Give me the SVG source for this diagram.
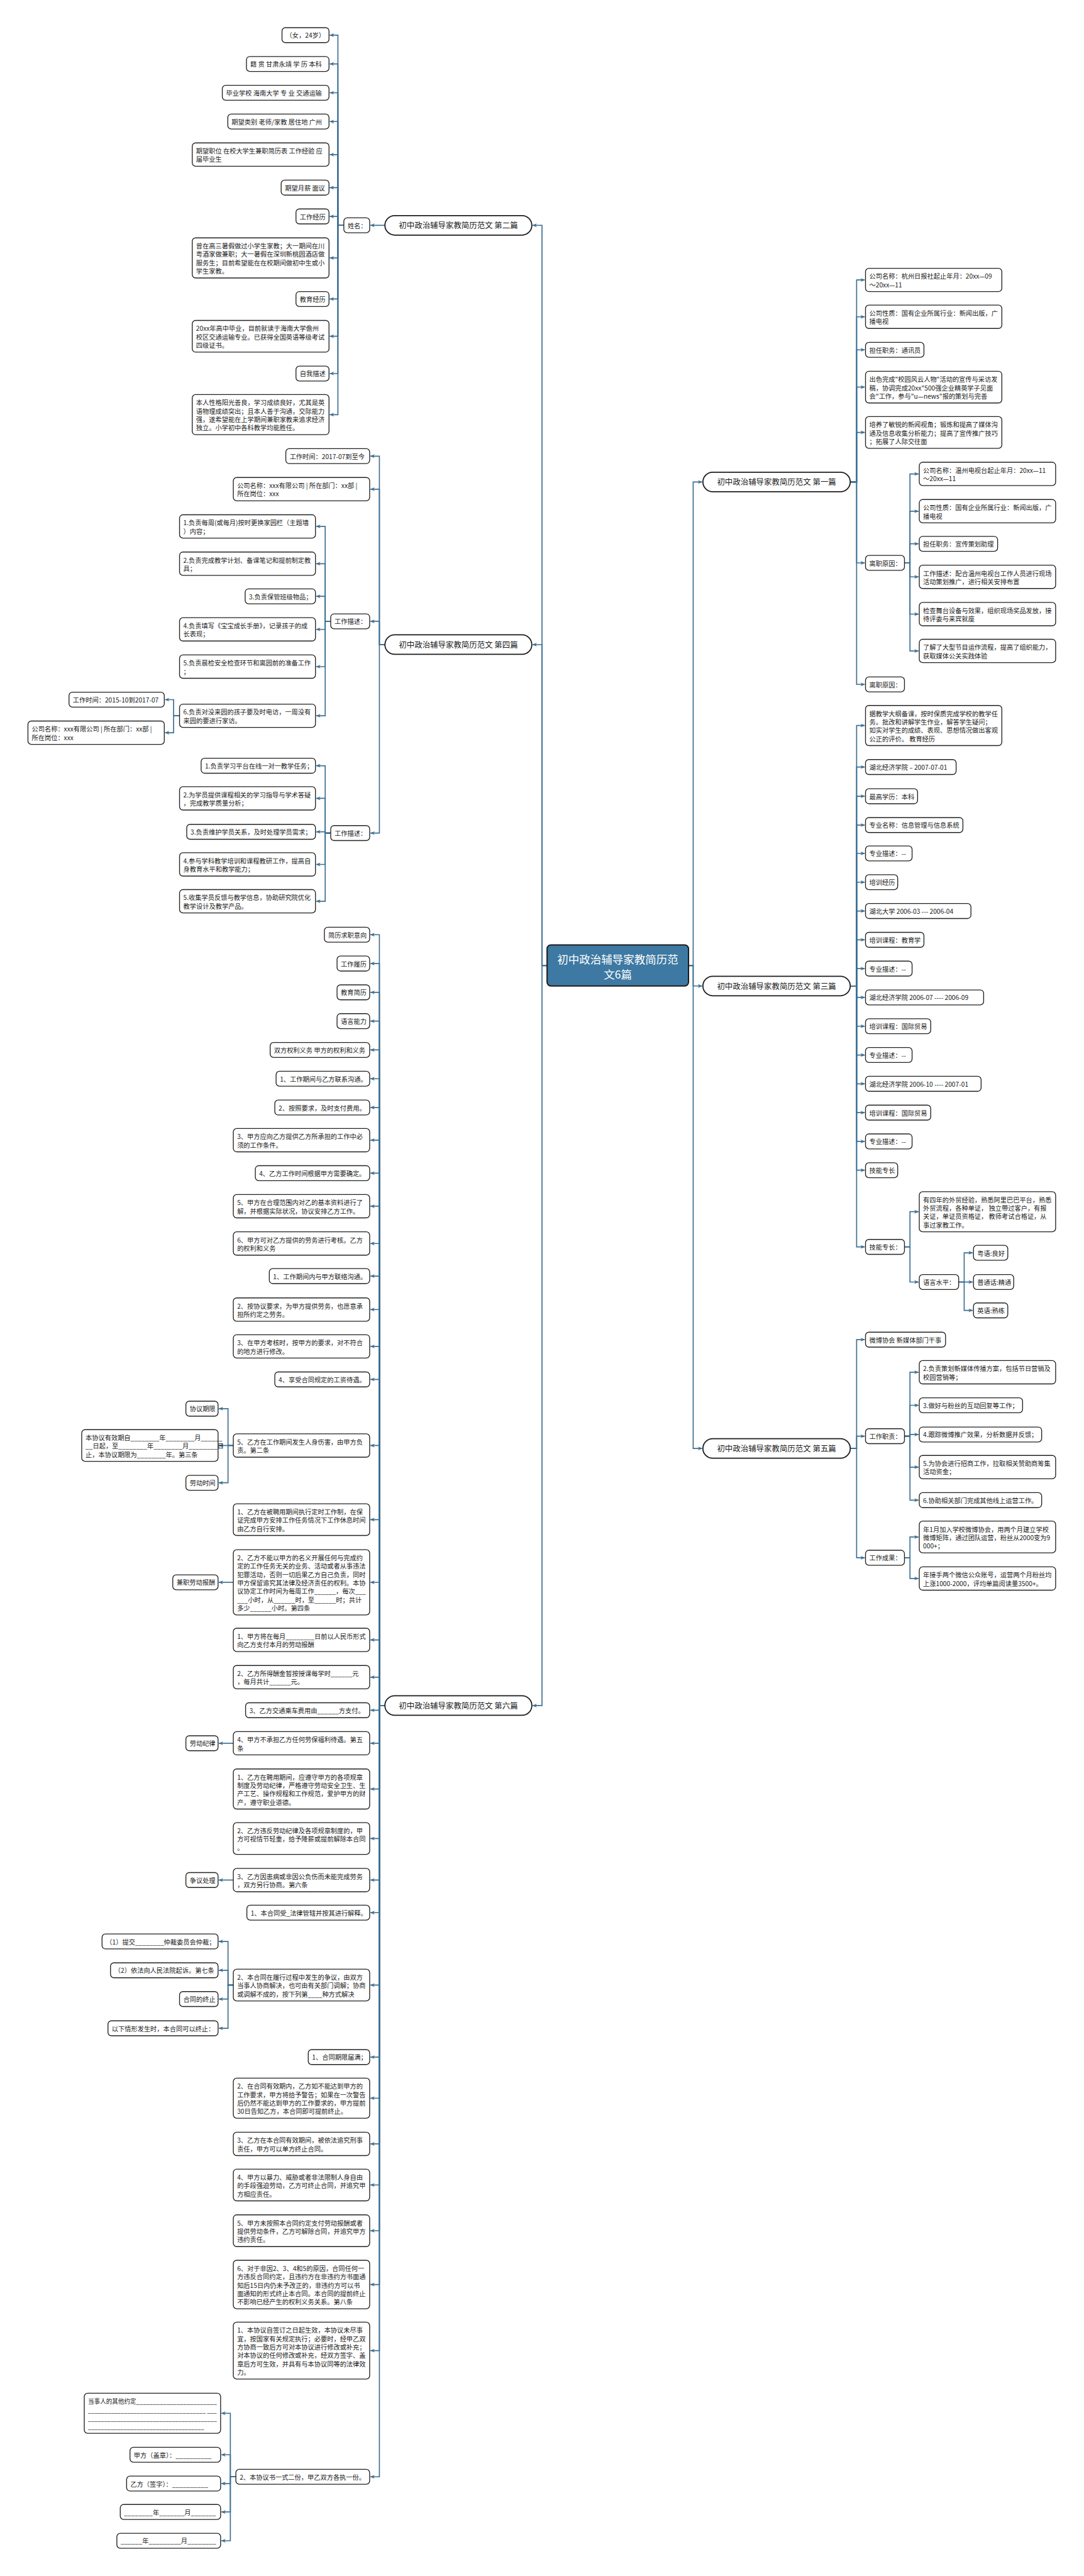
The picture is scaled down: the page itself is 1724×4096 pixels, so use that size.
<svg xmlns="http://www.w3.org/2000/svg" width="1724" height="4096" viewBox="0 0 1724 4096">
<defs>
<style>
.nd rect{fill:#fff;stroke:#222;stroke-width:2}
.nd text{font-family:"Noto Sans CJK SC","Noto Sans",sans-serif;font-size:15.2px;fill:#1b1b1b;dominant-baseline:central}
.br rect{fill:#fff;stroke:#1b1b1b;stroke-width:2.6}
.br text{font-family:"Noto Sans CJK SC","Noto Sans",sans-serif;font-size:18.5px;fill:#1b1b1b;dominant-baseline:central;text-anchor:middle}
.rt rect{fill:#3d79a2;stroke:#1d1d1d;stroke-width:3}
.rt text{font-family:"Noto Sans CJK SC","Noto Sans",sans-serif;font-size:26px;fill:#fff;dominant-baseline:central;text-anchor:middle}
#connectors path{fill:none;stroke:#3d6f91;stroke-width:2.5;marker-end:url(#ah)}
</style>
<marker id="ah" viewBox="0 0 10 10" refX="9" refY="5" markerWidth="11" markerHeight="11" markerUnits="userSpaceOnUse" orient="auto"><path d="M0,1 L10,5 L0,9 L3,5 z" fill="#3d6f91"/></marker>
</defs>
<rect x="0" y="0" width="1724" height="4096" fill="#fff"/>
<g transform="scale(0.67344)">
<g id="connectors">
<path d="M1292,2280 H1280 V532 H1258"/>
<path d="M1292,2280 H1280 V1522 H1258"/>
<path d="M1292,2280 H1280 V4027 H1258"/>
<path d="M1626,2280 H1637 V1138 H1658"/>
<path d="M1626,2280 H1637 V2328 H1658"/>
<path d="M1626,2280 H1637 V3420 H1658"/>
<path d="M909,532 H875"/>
<path d="M812,532 H798 V83 H779"/>
<path d="M812,532 H798 V151 H779"/>
<path d="M812,532 H798 V219 H779"/>
<path d="M812,532 H798 V287 H779"/>
<path d="M812,532 H798 V365 H779"/>
<path d="M812,532 H798 V443 H779"/>
<path d="M812,532 H798 V511 H779"/>
<path d="M812,532 H798 V609 H779"/>
<path d="M812,532 H798 V706 H779"/>
<path d="M812,532 H798 V794 H779"/>
<path d="M812,532 H798 V882 H779"/>
<path d="M812,532 H798 V979 H779"/>
<path d="M909,1522 H896 V1077 H875"/>
<path d="M909,1522 H896 V1155 H875"/>
<path d="M909,1522 H896 V1467 H875"/>
<path d="M909,1522 H896 V1967 H875"/>
<path d="M781,1467 H768 V1243 H747"/>
<path d="M781,1467 H768 V1331 H747"/>
<path d="M781,1467 H768 V1408 H747"/>
<path d="M781,1467 H768 V1486 H747"/>
<path d="M781,1467 H768 V1574 H747"/>
<path d="M781,1467 H768 V1690 H747"/>
<path d="M424,1690 H410 V1652 H390"/>
<path d="M424,1690 H410 V1730 H390"/>
<path d="M781,1967 H768 V1808 H747"/>
<path d="M781,1967 H768 V1885 H747"/>
<path d="M781,1967 H768 V1964 H747"/>
<path d="M781,1967 H768 V2041 H747"/>
<path d="M781,1967 H768 V2128 H747"/>
<path d="M909,4027 H896 V2207 H875"/>
<path d="M909,4027 H896 V2275 H875"/>
<path d="M909,4027 H896 V2343 H875"/>
<path d="M909,4027 H896 V2411 H875"/>
<path d="M909,4027 H896 V2479 H875"/>
<path d="M909,4027 H896 V2547 H875"/>
<path d="M909,4027 H896 V2615 H875"/>
<path d="M909,4027 H896 V2692 H875"/>
<path d="M909,4027 H896 V2770 H875"/>
<path d="M909,4027 H896 V2848 H875"/>
<path d="M909,4027 H896 V2936 H875"/>
<path d="M909,4027 H896 V3013 H875"/>
<path d="M909,4027 H896 V3092 H875"/>
<path d="M909,4027 H896 V3179 H875"/>
<path d="M909,4027 H896 V3257 H875"/>
<path d="M909,4027 H896 V3413 H875"/>
<path d="M909,4027 H896 V3588 H875"/>
<path d="M909,4027 H896 V3736 H875"/>
<path d="M909,4027 H896 V3872 H875"/>
<path d="M909,4027 H896 V3960 H875"/>
<path d="M909,4027 H896 V4038 H875"/>
<path d="M909,4027 H896 V4116 H875"/>
<path d="M909,4027 H896 V4224 H875"/>
<path d="M909,4027 H896 V4341 H875"/>
<path d="M909,4027 H896 V4439 H875"/>
<path d="M909,4027 H896 V4516 H875"/>
<path d="M909,4027 H896 V4687 H875"/>
<path d="M909,4027 H896 V4857 H875"/>
<path d="M909,4027 H896 V4954 H875"/>
<path d="M909,4027 H896 V5062 H875"/>
<path d="M909,4027 H896 V5159 H875"/>
<path d="M909,4027 H896 V5267 H875"/>
<path d="M909,4027 H896 V5394 H875"/>
<path d="M909,4027 H896 V5550 H875"/>
<path d="M909,4027 H896 V5848 H875"/>
<path d="M551,3413 H538.5 V3326 H517"/>
<path d="M551,3413 H517"/>
<path d="M551,3413 H538.5 V3501 H517"/>
<path d="M551,3736 H517"/>
<path d="M551,4116 H517"/>
<path d="M551,4439 H517"/>
<path d="M551,4687 H538.5 V4584 H517"/>
<path d="M551,4687 H538.5 V4652 H517"/>
<path d="M551,4687 H538.5 V4720 H517"/>
<path d="M551,4687 H538.5 V4789 H517"/>
<path d="M557,5848 H544 V5698 H523"/>
<path d="M557,5848 H544 V5796 H523"/>
<path d="M557,5848 H544 V5864 H523"/>
<path d="M557,5848 H544 V5931 H523"/>
<path d="M557,5848 H544 V5999 H523"/>
<path d="M2008,1138 H2023 V661 H2042"/>
<path d="M2008,1138 H2023 V748 H2042"/>
<path d="M2008,1138 H2023 V826 H2042"/>
<path d="M2008,1138 H2023 V914 H2042"/>
<path d="M2008,1138 H2023 V1021 H2042"/>
<path d="M2008,1138 H2023 V1329 H2042"/>
<path d="M2008,1138 H2023 V1616 H2042"/>
<path d="M2136,1329 H2149 V1119 H2169"/>
<path d="M2136,1329 H2149 V1207 H2169"/>
<path d="M2136,1329 H2149 V1284 H2169"/>
<path d="M2136,1329 H2149 V1362 H2169"/>
<path d="M2136,1329 H2149 V1450 H2169"/>
<path d="M2136,1329 H2149 V1537 H2169"/>
<path d="M2008,2328 H2023 V1713 H2042"/>
<path d="M2008,2328 H2023 V1811 H2042"/>
<path d="M2008,2328 H2023 V1880 H2042"/>
<path d="M2008,2328 H2023 V1948 H2042"/>
<path d="M2008,2328 H2023 V2015 H2042"/>
<path d="M2008,2328 H2023 V2083 H2042"/>
<path d="M2008,2328 H2023 V2151 H2042"/>
<path d="M2008,2328 H2023 V2219 H2042"/>
<path d="M2008,2328 H2023 V2287 H2042"/>
<path d="M2008,2328 H2023 V2355 H2042"/>
<path d="M2008,2328 H2023 V2423 H2042"/>
<path d="M2008,2328 H2023 V2491 H2042"/>
<path d="M2008,2328 H2023 V2559 H2042"/>
<path d="M2008,2328 H2023 V2627 H2042"/>
<path d="M2008,2328 H2023 V2695 H2042"/>
<path d="M2008,2328 H2023 V2763 H2042"/>
<path d="M2008,2328 H2023 V2944 H2042"/>
<path d="M2136,2944 H2149 V2861 H2169"/>
<path d="M2136,2944 H2149 V3027 H2169"/>
<path d="M2264,3027 H2277 V2958 H2297"/>
<path d="M2264,3027 H2297"/>
<path d="M2264,3027 H2277 V3094 H2297"/>
<path d="M2008,3420 H2023 V3163 H2042"/>
<path d="M2008,3420 H2023 V3391 H2042"/>
<path d="M2008,3420 H2023 V3678 H2042"/>
<path d="M2136,3391 H2149 V3240 H2169"/>
<path d="M2136,3391 H2149 V3318 H2169"/>
<path d="M2136,3391 H2149 V3387 H2169"/>
<path d="M2136,3391 H2149 V3464 H2169"/>
<path d="M2136,3391 H2149 V3542 H2169"/>
<path d="M2136,3678 H2149 V3629 H2169"/>
<path d="M2136,3678 H2149 V3727 H2169"/>
</g>

<g id="root" class="rt"><rect x="1292" y="2231" width="334" height="97" rx="9"/><text x="1459"><tspan x="1459" y="2263">初中政治辅导家教简历范</tspan><tspan x="1459" y="2299">文6篇</tspan></text></g>

<g id="b2" class="br"><rect x="909" y="509" width="347" height="46" rx="23"/><text x="1082.5" y="532">初中政治辅导家教简历范文 第二篇</text></g>
<g id="b4" class="br"><rect x="909" y="1499" width="347" height="46" rx="23"/><text x="1082.5" y="1522">初中政治辅导家教简历范文 第四篇</text></g>
<g id="b6" class="br"><rect x="909" y="4004" width="347" height="46" rx="23"/><text x="1082.5" y="4027">初中政治辅导家教简历范文 第六篇</text></g>
<g id="b1" class="br"><rect x="1660" y="1115" width="348" height="46" rx="23"/><text x="1834" y="1138">初中政治辅导家教简历范文 第一篇</text></g>
<g id="b3" class="br"><rect x="1660" y="2305" width="348" height="46" rx="23"/><text x="1834" y="2328">初中政治辅导家教简历范文 第三篇</text></g>
<g id="b5" class="br"><rect x="1660" y="3397" width="348" height="46" rx="23"/><text x="1834" y="3420">初中政治辅导家教简历范文 第五篇</text></g>

<g id="n2_0" class="nd"><rect x="812" y="514.35" width="61" height="35.3" rx="8"/><text x="821" y="532">姓名：</text></g>
<g id="n2_1" class="nd"><rect x="666" y="65.35" width="111" height="35.3" rx="8"/><text x="675" y="83">（女，24岁）</text></g>
<g id="n2_2" class="nd"><rect x="582" y="133.35" width="195" height="35.3" rx="8"/><text x="591" y="151">籍 贯 甘肃永靖 学 历 本科</text></g>
<g id="n2_3" class="nd"><rect x="525" y="201.35" width="252" height="35.3" rx="8"/><text x="534" y="219">毕业学校 海南大学 专 业 交通运输</text></g>
<g id="n2_4" class="nd"><rect x="538" y="269.35" width="239" height="35.3" rx="8"/><text x="547" y="287">期望类别 老师/家教 居住地 广州</text></g>
<g id="n2_5" class="nd"><rect x="454" y="337.45" width="323" height="55.1" rx="8"/><text><tspan x="463" y="355.1">期望职位 在校大学生兼职简历表 工作经验 应</tspan><tspan x="463" y="374.9">届毕业生</tspan></text></g>
<g id="n2_6" class="nd"><rect x="664" y="425.35" width="113" height="35.3" rx="8"/><text x="673" y="443">期望月薪 面议</text></g>
<g id="n2_7" class="nd"><rect x="699" y="493.35" width="78" height="35.3" rx="8"/><text x="708" y="511">工作经历</text></g>
<g id="n2_8" class="nd"><rect x="454" y="561.65" width="323" height="94.7" rx="8"/><text><tspan x="463" y="579.3">曾在高三暑假做过小学生家教；大一期间在川</tspan><tspan x="463" y="599.1">粤酒家做兼职；大一暑假在深圳新桃园酒店做</tspan><tspan x="463" y="618.9">服务生；目前希望能在在校期间做初中生或小</tspan><tspan x="463" y="638.7">学生家教。</tspan></text></g>
<g id="n2_9" class="nd"><rect x="699" y="688.35" width="78" height="35.3" rx="8"/><text x="708" y="706">教育经历</text></g>
<g id="n2_10" class="nd"><rect x="454" y="756.55" width="323" height="74.9" rx="8"/><text><tspan x="463" y="774.2">20xx年高中毕业，目前就读于海南大学儋州</tspan><tspan x="463" y="794">校区交通运输专业。已获得全国英语等级考试</tspan><tspan x="463" y="813.8">四级证书。</tspan></text></g>
<g id="n2_11" class="nd"><rect x="699" y="864.35" width="78" height="35.3" rx="8"/><text x="708" y="882">自我描述</text></g>
<g id="n2_12" class="nd"><rect x="454" y="931.65" width="323" height="94.7" rx="8"/><text><tspan x="463" y="949.3">本人性格阳光善良，学习成绩良好，尤其是英</tspan><tspan x="463" y="969.1">语物理成绩突出；且本人善于沟通，交际能力</tspan><tspan x="463" y="988.9">强，遂希望能在上学期间兼职家教来追求经济</tspan><tspan x="463" y="1008.7">独立。小学初中各科教学均能胜任。</tspan></text></g>

<g id="n4_1" class="nd"><rect x="675" y="1059.35" width="198" height="35.3" rx="8"/><text x="684" y="1077">工作时间：2017-07到至今</text></g>
<g id="n4_2" class="nd"><rect x="551" y="1127.45" width="322" height="55.1" rx="8"/><text><tspan x="560" y="1145.1">公司名称：xxx有限公司 | 所在部门：xx部 |</tspan><tspan x="560" y="1164.9">所在岗位：xxx</tspan></text></g>
<g id="n4_3" class="nd"><rect x="781" y="1449.35" width="92" height="35.3" rx="8"/><text x="790" y="1467">工作描述：</text></g>
<g id="n4_3_1" class="nd"><rect x="424" y="1215.45" width="321" height="55.1" rx="8"/><text><tspan x="433" y="1233.1">1.负责每周(或每月)按时更换家园栏（主题墙</tspan><tspan x="433" y="1252.9">）内容；</tspan></text></g>
<g id="n4_3_2" class="nd"><rect x="424" y="1303.45" width="321" height="55.1" rx="8"/><text><tspan x="433" y="1321.1">2.负责完成教学计划、备课笔记和提前制定教</tspan><tspan x="433" y="1340.9">具；</tspan></text></g>
<g id="n4_3_3" class="nd"><rect x="579" y="1390.35" width="166" height="35.3" rx="8"/><text x="588" y="1408">3.负责保管班级物品；</text></g>
<g id="n4_3_4" class="nd"><rect x="424" y="1458.45" width="321" height="55.1" rx="8"/><text><tspan x="433" y="1476.1">4.负责填写《宝宝成长手册》，记录孩子的成</tspan><tspan x="433" y="1495.9">长表现；</tspan></text></g>
<g id="n4_3_5" class="nd"><rect x="424" y="1546.45" width="321" height="55.1" rx="8"/><text><tspan x="433" y="1564.1">5.负责晨检安全检查环节和离园前的准备工作</tspan><tspan x="433" y="1583.9">；</tspan></text></g>
<g id="n4_3_6" class="nd"><rect x="424" y="1662.45" width="321" height="55.1" rx="8"/><text><tspan x="433" y="1680.1">6.负责对没来园的孩子要及时电访，一周没有</tspan><tspan x="433" y="1699.9">来园的要进行家访。</tspan></text></g>
<g id="n4_3_6_1" class="nd"><rect x="163" y="1634.35" width="225" height="35.3" rx="8"/><text x="172" y="1652">工作时间：2015-10到2017-07</text></g>
<g id="n4_3_6_2" class="nd"><rect x="66" y="1702.45" width="322" height="55.1" rx="8"/><text><tspan x="75" y="1720.1">公司名称：xxx有限公司 | 所在部门：xx部 |</tspan><tspan x="75" y="1739.9">所在岗位：xxx</tspan></text></g>
<g id="n4_4" class="nd"><rect x="781" y="1949.35" width="92" height="35.3" rx="8"/><text x="790" y="1967">工作描述：</text></g>
<g id="n4_4_1" class="nd"><rect x="475" y="1790.35" width="270" height="35.3" rx="8"/><text x="484" y="1808">1.负责学习平台在线一对一教学任务；</text></g>
<g id="n4_4_2" class="nd"><rect x="424" y="1857.45" width="321" height="55.1" rx="8"/><text><tspan x="433" y="1875.1">2.为学员提供课程相关的学习指导与学术答疑</tspan><tspan x="433" y="1894.9">，完成教学质量分析；</tspan></text></g>
<g id="n4_4_3" class="nd"><rect x="441" y="1946.35" width="304" height="35.3" rx="8"/><text x="450" y="1964">3.负责维护学员关系，及时处理学员需求；</text></g>
<g id="n4_4_4" class="nd"><rect x="424" y="2013.45" width="321" height="55.1" rx="8"/><text><tspan x="433" y="2031.1">4.参与学科教学培训和课程教研工作，提高自</tspan><tspan x="433" y="2050.9">身教育水平和教学能力；</tspan></text></g>
<g id="n4_4_5" class="nd"><rect x="424" y="2100.45" width="321" height="55.1" rx="8"/><text><tspan x="433" y="2118.1">5.收集学员反馈与教学信息，协助研究院优化</tspan><tspan x="433" y="2137.9">教学设计及教学产品。</tspan></text></g>

<g id="n6_1" class="nd"><rect x="766" y="2189.35" width="107" height="35.3" rx="8"/><text x="775" y="2207">简历求职意向</text></g>
<g id="n6_2" class="nd"><rect x="796" y="2257.35" width="77" height="35.3" rx="8"/><text x="805" y="2275">工作履历</text></g>
<g id="n6_3" class="nd"><rect x="796" y="2325.35" width="77" height="35.3" rx="8"/><text x="805" y="2343">教育简历</text></g>
<g id="n6_4" class="nd"><rect x="796" y="2393.35" width="77" height="35.3" rx="8"/><text x="805" y="2411">语言能力</text></g>
<g id="n6_5" class="nd"><rect x="638" y="2461.35" width="235" height="35.3" rx="8"/><text x="647" y="2479">双方权利义务 甲方的权利和义务</text></g>
<g id="n6_6" class="nd"><rect x="652" y="2529.35" width="221" height="35.3" rx="8"/><text x="661" y="2547">1、工作期间与乙方联系沟通。</text></g>
<g id="n6_7" class="nd"><rect x="649" y="2597.35" width="224" height="35.3" rx="8"/><text x="658" y="2615">2、按照要求，及时支付费用。</text></g>
<g id="n6_8" class="nd"><rect x="551" y="2664.45" width="322" height="55.1" rx="8"/><text><tspan x="560" y="2682.1">3、甲方应向乙方提供乙方所承担的工作中必</tspan><tspan x="560" y="2701.9">须的工作条件。</tspan></text></g>
<g id="n6_9" class="nd"><rect x="603" y="2752.35" width="270" height="35.3" rx="8"/><text x="612" y="2770">4、乙方工作时间根据甲方需要确定。</text></g>
<g id="n6_10" class="nd"><rect x="551" y="2820.45" width="322" height="55.1" rx="8"/><text><tspan x="560" y="2838.1">5、甲方在合理范围内对乙的基本资料进行了</tspan><tspan x="560" y="2857.9">解，并根据实际状况，协议安排乙方工作。</tspan></text></g>
<g id="n6_11" class="nd"><rect x="551" y="2908.45" width="322" height="55.1" rx="8"/><text><tspan x="560" y="2926.1">6、甲方可对乙方提供的劳务进行考核。乙方</tspan><tspan x="560" y="2945.9">的权利和义务</tspan></text></g>
<g id="n6_12" class="nd"><rect x="636" y="2995.35" width="237" height="35.3" rx="8"/><text x="645" y="3013">1、工作期间内与甲方联络沟通。</text></g>
<g id="n6_13" class="nd"><rect x="551" y="3064.45" width="322" height="55.1" rx="8"/><text><tspan x="560" y="3082.1">2、按协议要求，为甲方提供劳务，也愿意承</tspan><tspan x="560" y="3101.9">担所约定之劳务。</tspan></text></g>
<g id="n6_14" class="nd"><rect x="551" y="3151.45" width="322" height="55.1" rx="8"/><text><tspan x="560" y="3169.1">3、在甲方考核时，按甲方的要求，对不符合</tspan><tspan x="560" y="3188.9">的地方进行修改。</tspan></text></g>
<g id="n6_15" class="nd"><rect x="649" y="3239.35" width="224" height="35.3" rx="8"/><text x="658" y="3257">4、享受合同规定的工资待遇。</text></g>
<g id="n6_16" class="nd"><rect x="551" y="3385.45" width="322" height="55.1" rx="8"/><text><tspan x="560" y="3403.1">5、乙方在工作期间发生人身伤害，由甲方负</tspan><tspan x="560" y="3422.9">责。第二条</tspan></text></g>
<g id="n6_16a" class="nd"><rect x="439" y="3308.35" width="76" height="35.3" rx="8"/><text x="448" y="3326">协议期限</text></g>
<g id="n6_16b" class="nd"><rect x="193" y="3375.55" width="322" height="74.9" rx="8"/><text><tspan x="202" y="3393.2">本协议有效期自________年________月______</tspan><tspan x="202" y="3413">__日起，至________年________月________日</tspan><tspan x="202" y="3432.8">止，本协议期限为________年。第三条</tspan></text></g>
<g id="n6_16c" class="nd"><rect x="439" y="3483.35" width="76" height="35.3" rx="8"/><text x="448" y="3501">劳动时间</text></g>
<g id="n6_17" class="nd"><rect x="551" y="3550.55" width="322" height="74.9" rx="8"/><text><tspan x="560" y="3568.2">1、乙方在被聘用期间执行定时工作制，在保</tspan><tspan x="560" y="3588">证完成甲方安排工作任务情况下工作休息时间</tspan><tspan x="560" y="3607.8">由乙方自行安排。</tspan></text></g>
<g id="n6_18" class="nd"><rect x="551" y="3658.95" width="322" height="154.1" rx="8"/><text><tspan x="560" y="3676.6">2、乙方不能以甲方的名义开展任何与完成约</tspan><tspan x="560" y="3696.4">定的工作任务无关的业务、活动或者从事违法</tspan><tspan x="560" y="3716.2">犯罪活动，否则一切后果乙方自己负责，同时</tspan><tspan x="560" y="3736">甲方保留追究其法律及经济责任的权利。本协</tspan><tspan x="560" y="3755.8">议协定工作时间为每周工作______，每次___</tspan><tspan x="560" y="3775.6">___小时，从______时，至______时；共计</tspan><tspan x="560" y="3795.4">多少______小时。第四条</tspan></text></g>
<g id="n6_18a" class="nd"><rect x="408" y="3718.35" width="107" height="35.3" rx="8"/><text x="417" y="3736">兼职劳动报酬</text></g>
<g id="n6_19" class="nd"><rect x="551" y="3844.45" width="322" height="55.1" rx="8"/><text><tspan x="560" y="3862.1">1、甲方将在每月________日前以人民币形式</tspan><tspan x="560" y="3881.9">向乙方支付本月的劳动报酬</tspan></text></g>
<g id="n6_20" class="nd"><rect x="551" y="3932.45" width="322" height="55.1" rx="8"/><text><tspan x="560" y="3950.1">2、乙方所得酬金暂按授课每学时______元</tspan><tspan x="560" y="3969.9">，每月共计______元。</tspan></text></g>
<g id="n6_21" class="nd"><rect x="580" y="4020.35" width="293" height="35.3" rx="8"/><text x="589" y="4038">3、乙方交通乘车费用由______方支付。</text></g>
<g id="n6_22" class="nd"><rect x="551" y="4088.45" width="322" height="55.1" rx="8"/><text><tspan x="560" y="4106.1">4、甲方不承担乙方任何劳保福利待遇。第五</tspan><tspan x="560" y="4125.9">条</tspan></text></g>
<g id="n6_22a" class="nd"><rect x="439" y="4098.35" width="76" height="35.3" rx="8"/><text x="448" y="4116">劳动纪律</text></g>
<g id="n6_23" class="nd"><rect x="551" y="4176.65" width="322" height="94.7" rx="8"/><text><tspan x="560" y="4194.3">1、乙方在聘用期间，应遵守甲方的各项规章</tspan><tspan x="560" y="4214.1">制度及劳动纪律，严格遵守劳动安全卫生、生</tspan><tspan x="560" y="4233.9">产工艺、操作规程和工作规范，爱护甲方的财</tspan><tspan x="560" y="4253.7">产，遵守职业道德。</tspan></text></g>
<g id="n6_24" class="nd"><rect x="551" y="4303.55" width="322" height="74.9" rx="8"/><text><tspan x="560" y="4321.2">2、乙方违反劳动纪律及各项规章制度的，甲</tspan><tspan x="560" y="4341">方可视情节轻重，给予降薪或提前解除本合同</tspan><tspan x="560" y="4360.8">。</tspan></text></g>
<g id="n6_25" class="nd"><rect x="551" y="4411.45" width="322" height="55.1" rx="8"/><text><tspan x="560" y="4429.1">3、乙方因患病或非因公负伤而未能完成劳务</tspan><tspan x="560" y="4448.9">，双方另行协商。第六条</tspan></text></g>
<g id="n6_25a" class="nd"><rect x="439" y="4421.35" width="76" height="35.3" rx="8"/><text x="448" y="4439">争议处理</text></g>
<g id="n6_26" class="nd"><rect x="583" y="4498.35" width="290" height="35.3" rx="8"/><text x="592" y="4516">1、本合同受_法律管辖并按其进行解释。</text></g>
<g id="n6_27" class="nd"><rect x="551" y="4649.55" width="322" height="74.9" rx="8"/><text><tspan x="560" y="4667.2">2、本合同在履行过程中发生的争议，由双方</tspan><tspan x="560" y="4687">当事人协商解决，也可由有关部门调解；协商</tspan><tspan x="560" y="4706.8">或调解不成的，按下列第____种方式解决</tspan></text></g>
<g id="n6_27a" class="nd"><rect x="241" y="4566.35" width="274" height="35.3" rx="8"/><text x="250" y="4584">（1）提交________仲裁委员会仲裁；</text></g>
<g id="n6_27b" class="nd"><rect x="261" y="4634.35" width="254" height="35.3" rx="8"/><text x="270" y="4652">（2）依法向人民法院起诉。第七条</text></g>
<g id="n6_27c" class="nd"><rect x="424" y="4702.35" width="91" height="35.3" rx="8"/><text x="433" y="4720">合同的终止</text></g>
<g id="n6_27d" class="nd"><rect x="255" y="4771.35" width="260" height="35.3" rx="8"/><text x="264" y="4789">以下情形发生时，本合同可以终止：</text></g>
<g id="n6_28" class="nd"><rect x="728" y="4839.35" width="145" height="35.3" rx="8"/><text x="737" y="4857">1、合同期限届满；</text></g>
<g id="n6_29" class="nd"><rect x="551" y="4906.65" width="322" height="94.7" rx="8"/><text><tspan x="560" y="4924.3">2、在合同有效期内，乙方如不能达到甲方的</tspan><tspan x="560" y="4944.1">工作要求，甲方将给予警告；如果在一次警告</tspan><tspan x="560" y="4963.9">后仍然不能达到甲方的工作要求的，甲方提前</tspan><tspan x="560" y="4983.7">30日告知乙方，本合同即可提前终止。</tspan></text></g>
<g id="n6_30" class="nd"><rect x="551" y="5034.45" width="322" height="55.1" rx="8"/><text><tspan x="560" y="5052.1">3、乙方在本合同有效期间，被依法追究刑事</tspan><tspan x="560" y="5071.9">责任，甲方可以单方终止合同。</tspan></text></g>
<g id="n6_31" class="nd"><rect x="551" y="5121.55" width="322" height="74.9" rx="8"/><text><tspan x="560" y="5139.2">4、甲方以暴力、威胁或者非法限制人身自由</tspan><tspan x="560" y="5159">的手段强迫劳动，乙方可终止合同，并追究甲</tspan><tspan x="560" y="5178.8">方相应责任。</tspan></text></g>
<g id="n6_32" class="nd"><rect x="551" y="5229.55" width="322" height="74.9" rx="8"/><text><tspan x="560" y="5247.2">5、甲方未按照本合同约定支付劳动报酬或者</tspan><tspan x="560" y="5267">提供劳动条件，乙方可解除合同，并追究甲方</tspan><tspan x="560" y="5286.8">违约责任。</tspan></text></g>
<g id="n6_33" class="nd"><rect x="551" y="5336.75" width="322" height="114.5" rx="8"/><text><tspan x="560" y="5354.4">6、对于非因2、3、4和5的原因，合同任何一</tspan><tspan x="560" y="5374.2">方违反合同约定，且违约方在非违约方书面通</tspan><tspan x="560" y="5394">知后15日内仍未予改正的，非违约方可以书</tspan><tspan x="560" y="5413.8">面通知的形式终止本合同。本合同的提前终止</tspan><tspan x="560" y="5433.6">不影响已经产生的权利义务关系。第八条</tspan></text></g>
<g id="n6_34" class="nd"><rect x="551" y="5482.85" width="322" height="134.3" rx="8"/><text><tspan x="560" y="5500.5">1、本协议自签订之日起生效，本协议未尽事</tspan><tspan x="560" y="5520.3">宜，按国家有关规定执行；必要时，经甲乙双</tspan><tspan x="560" y="5540.1">方协商一致后方可对本协议进行修改或补充；</tspan><tspan x="560" y="5559.9">对本协议的任何修改或补充，经双方签字、盖</tspan><tspan x="560" y="5579.7">章后方可生效，并具有与本协议同等的法律效</tspan><tspan x="560" y="5599.5">力。</tspan></text></g>
<g id="n6_35" class="nd"><rect x="557" y="5830.35" width="316" height="35.3" rx="8"/><text x="566" y="5848">2、本协议书一式二份，甲乙双方各执一份。</text></g>
<g id="n6_35a" class="nd"><rect x="199" y="5650.65" width="322" height="94.7" rx="8"/><text><tspan x="208" y="5668.3" textLength="304" lengthAdjust="spacingAndGlyphs">当事人的其他约定________________________</tspan><tspan x="208" y="5688.1" textLength="304" lengthAdjust="spacingAndGlyphs">____________________________________ ___</tspan><tspan x="208" y="5707.9" textLength="304" lengthAdjust="spacingAndGlyphs">________________________________________</tspan><tspan x="208" y="5727.7" textLength="274" lengthAdjust="spacingAndGlyphs">____________________________________</tspan></text></g>
<g id="n6_35b" class="nd"><rect x="307" y="5778.35" width="214" height="35.3" rx="8"/><text x="316" y="5796">甲方（盖章）：__________</text></g>
<g id="n6_35c" class="nd"><rect x="299" y="5846.35" width="222" height="35.3" rx="8"/><text x="308" y="5864">乙方（签字）：__________</text></g>
<g id="n6_35d" class="nd"><rect x="284" y="5913.35" width="237" height="35.3" rx="8"/><text x="293" y="5931">________年_______月_______</text></g>
<g id="n6_35e" class="nd"><rect x="276" y="5981.35" width="245" height="35.3" rx="8"/><text x="285" y="5999">______年_________月________</text></g>

<g id="n1_1" class="nd"><rect x="2044" y="633.45" width="322" height="55.1" rx="8"/><text><tspan x="2053" y="651.1">公司名称：杭州日报社起止年月：20xx—09</tspan><tspan x="2053" y="670.9">～20xx—11</tspan></text></g>
<g id="n1_2" class="nd"><rect x="2044" y="720.45" width="322" height="55.1" rx="8"/><text><tspan x="2053" y="738.1">公司性质：国有企业所属行业：新闻出版，广</tspan><tspan x="2053" y="757.9">播电视</tspan></text></g>
<g id="n1_3" class="nd"><rect x="2044" y="808.35" width="138" height="35.3" rx="8"/><text x="2053" y="826">担任职务：通讯员</text></g>
<g id="n1_4" class="nd"><rect x="2044" y="876.55" width="322" height="74.9" rx="8"/><text><tspan x="2053" y="894.2">出色完成"校园风云人物"活动的宣传与采访发</tspan><tspan x="2053" y="914">稿，协调完成20xx"500强企业精英学子见面</tspan><tspan x="2053" y="933.8">会"工作，参与"u—news"报的策划与完善</tspan></text></g>
<g id="n1_5" class="nd"><rect x="2044" y="983.55" width="322" height="74.9" rx="8"/><text><tspan x="2053" y="1001.2">培养了敏锐的新闻视角；锻炼和提高了媒体沟</tspan><tspan x="2053" y="1021">通及信息收集分析能力；提高了宣传推广技巧</tspan><tspan x="2053" y="1040.8">；拓展了人际交往面</tspan></text></g>
<g id="n1_6" class="nd"><rect x="2044" y="1311.35" width="92" height="35.3" rx="8"/><text x="2053" y="1329">离职原因：</text></g>
<g id="n1_6a" class="nd"><rect x="2171" y="1091.45" width="322" height="55.1" rx="8"/><text><tspan x="2180" y="1109.1">公司名称：温州电视台起止年月：20xx—11</tspan><tspan x="2180" y="1128.9">～20xx—11</tspan></text></g>
<g id="n1_6b" class="nd"><rect x="2171" y="1179.45" width="322" height="55.1" rx="8"/><text><tspan x="2180" y="1197.1">公司性质：国有企业所属行业：新闻出版，广</tspan><tspan x="2180" y="1216.9">播电视</tspan></text></g>
<g id="n1_6c" class="nd"><rect x="2171" y="1266.35" width="185" height="35.3" rx="8"/><text x="2180" y="1284">担任职务：宣传策划助理</text></g>
<g id="n1_6d" class="nd"><rect x="2171" y="1334.45" width="322" height="55.1" rx="8"/><text><tspan x="2180" y="1352.1">工作描述：配合温州电视台工作人员进行现场</tspan><tspan x="2180" y="1371.9">活动策划推广，进行相关安排布置</tspan></text></g>
<g id="n1_6e" class="nd"><rect x="2171" y="1422.45" width="322" height="55.1" rx="8"/><text><tspan x="2180" y="1440.1">检查舞台设备与效果，组织现场奖品发放，接</tspan><tspan x="2180" y="1459.9">待评委与来宾就座</tspan></text></g>
<g id="n1_6f" class="nd"><rect x="2171" y="1509.45" width="322" height="55.1" rx="8"/><text><tspan x="2180" y="1527.1">了解了大型节目运作流程，提高了组织能力，</tspan><tspan x="2180" y="1546.9">获取媒体公关实践体验</tspan></text></g>
<g id="n1_7" class="nd"><rect x="2044" y="1598.35" width="92" height="35.3" rx="8"/><text x="2053" y="1616">离职原因：</text></g>

<g id="n3_1" class="nd"><rect x="2044" y="1665.65" width="322" height="94.7" rx="8"/><text><tspan x="2053" y="1683.3">据教学大纲备课，按时保质完成学校的教学任</tspan><tspan x="2053" y="1703.1">务。批改和讲解学生作业，解答学生疑问；</tspan><tspan x="2053" y="1722.9">如实对学生的成绩、表现、思想情况做出客观</tspan><tspan x="2053" y="1742.7">公正的评价。 教育经历</tspan></text></g>
<g id="n3_2" class="nd"><rect x="2044" y="1793.35" width="214" height="35.3" rx="8"/><text x="2053" y="1811">湖北经济学院 – 2007-07-01</text></g>
<g id="n3_3" class="nd"><rect x="2044" y="1862.35" width="123" height="35.3" rx="8"/><text x="2053" y="1880">最高学历：本科</text></g>
<g id="n3_4" class="nd"><rect x="2044" y="1930.35" width="230" height="35.3" rx="8"/><text x="2053" y="1948">专业名称：信息管理与信息系统</text></g>
<g id="n3_5" class="nd"><rect x="2044" y="1997.35" width="110" height="35.3" rx="8"/><text x="2053" y="2015">专业描述：--</text></g>
<g id="n3_6" class="nd"><rect x="2044" y="2065.35" width="76" height="35.3" rx="8"/><text x="2053" y="2083">培训经历</text></g>
<g id="n3_7" class="nd"><rect x="2044" y="2133.35" width="249" height="35.3" rx="8"/><text x="2053" y="2151">湖北大学 2006-03 --- 2006-04</text></g>
<g id="n3_8" class="nd"><rect x="2044" y="2201.35" width="138" height="35.3" rx="8"/><text x="2053" y="2219">培训课程：教育学</text></g>
<g id="n3_9" class="nd"><rect x="2044" y="2269.35" width="110" height="35.3" rx="8"/><text x="2053" y="2287">专业描述：--</text></g>
<g id="n3_10" class="nd"><rect x="2044" y="2337.35" width="279" height="35.3" rx="8"/><text x="2053" y="2355">湖北经济学院 2006-07 ---- 2006-09</text></g>
<g id="n3_11" class="nd"><rect x="2044" y="2405.35" width="154" height="35.3" rx="8"/><text x="2053" y="2423">培训课程：国际贸易</text></g>
<g id="n3_12" class="nd"><rect x="2044" y="2473.35" width="110" height="35.3" rx="8"/><text x="2053" y="2491">专业描述：--</text></g>
<g id="n3_13" class="nd"><rect x="2044" y="2541.35" width="273" height="35.3" rx="8"/><text x="2053" y="2559">湖北经济学院 2006-10 ---- 2007-01</text></g>
<g id="n3_14" class="nd"><rect x="2044" y="2609.35" width="154" height="35.3" rx="8"/><text x="2053" y="2627">培训课程：国际贸易</text></g>
<g id="n3_15" class="nd"><rect x="2044" y="2677.35" width="110" height="35.3" rx="8"/><text x="2053" y="2695">专业描述：--</text></g>
<g id="n3_16" class="nd"><rect x="2044" y="2745.35" width="76" height="35.3" rx="8"/><text x="2053" y="2763">技能专长</text></g>
<g id="n3_17" class="nd"><rect x="2044" y="2926.35" width="92" height="35.3" rx="8"/><text x="2053" y="2944">技能专长：</text></g>
<g id="n3_17a" class="nd"><rect x="2171" y="2813.65" width="322" height="94.7" rx="8"/><text><tspan x="2180" y="2831.3">有四年的外贸经验，熟悉阿里巴巴平台，熟悉</tspan><tspan x="2180" y="2851.1">外贸流程，各种单证， 独立带过客户，有报</tspan><tspan x="2180" y="2870.9">关证，单证员资格证， 教师考试合格证，从</tspan><tspan x="2180" y="2890.7">事过家教工作。</tspan></text></g>
<g id="n3_17b" class="nd"><rect x="2171" y="3009.35" width="93" height="35.3" rx="8"/><text x="2180" y="3027">语言水平：</text></g>
<g id="n3_17b1" class="nd"><rect x="2299" y="2940.35" width="81" height="35.3" rx="8"/><text x="2308" y="2958">粤语:良好</text></g>
<g id="n3_17b2" class="nd"><rect x="2299" y="3009.35" width="95" height="35.3" rx="8"/><text x="2308" y="3027">普通话:精通</text></g>
<g id="n3_17b3" class="nd"><rect x="2299" y="3076.35" width="81" height="35.3" rx="8"/><text x="2308" y="3094">英语:熟练</text></g>

<g id="n5_1" class="nd"><rect x="2044" y="3145.35" width="189" height="35.3" rx="8"/><text x="2053" y="3163">微博协会 新媒体部门干事</text></g>
<g id="n5_2" class="nd"><rect x="2044" y="3373.35" width="92" height="35.3" rx="8"/><text x="2053" y="3391">工作职责：</text></g>
<g id="n5_2a" class="nd"><rect x="2171" y="3212.45" width="322" height="55.1" rx="8"/><text><tspan x="2180" y="3230.1">2.负责策划新媒体传播方案，包括节日营销及</tspan><tspan x="2180" y="3249.9">校园营销等；</tspan></text></g>
<g id="n5_2b" class="nd"><rect x="2171" y="3300.35" width="244" height="35.3" rx="8"/><text x="2180" y="3318">3.做好与粉丝的互动回复等工作；</text></g>
<g id="n5_2c" class="nd"><rect x="2171" y="3369.35" width="289" height="35.3" rx="8"/><text x="2180" y="3387">4.跟踪微博推广效果，分析数据并反馈；</text></g>
<g id="n5_2d" class="nd"><rect x="2171" y="3436.45" width="322" height="55.1" rx="8"/><text><tspan x="2180" y="3454.1">5.为协会进行招商工作，拉取相关赞助商筹集</tspan><tspan x="2180" y="3473.9">活动资金；</tspan></text></g>
<g id="n5_2e" class="nd"><rect x="2171" y="3524.35" width="289" height="35.3" rx="8"/><text x="2180" y="3542">6.协助相关部门完成其他线上运营工作。</text></g>
<g id="n5_3" class="nd"><rect x="2044" y="3660.35" width="92" height="35.3" rx="8"/><text x="2053" y="3678">工作成果：</text></g>
<g id="n5_3a" class="nd"><rect x="2171" y="3591.55" width="322" height="74.9" rx="8"/><text><tspan x="2180" y="3609.2">年1月加入学校微博协会，用两个月建立学校</tspan><tspan x="2180" y="3629">微博矩阵，通过团队运营，粉丝从2000变为9</tspan><tspan x="2180" y="3648.8">000+；</tspan></text></g>
<g id="n5_3b" class="nd"><rect x="2171" y="3699.45" width="322" height="55.1" rx="8"/><text><tspan x="2180" y="3717.1">年接手两个微信公众账号，运营两个月粉丝均</tspan><tspan x="2180" y="3736.9">上涨1000-2000，评均单篇阅读量3500+。</tspan></text></g>
</g>
</svg>
